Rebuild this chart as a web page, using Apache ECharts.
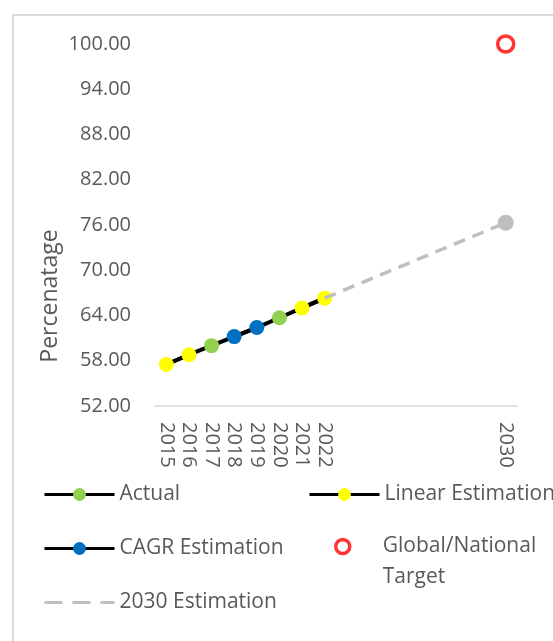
<!DOCTYPE html>
<html>
<head>
<meta charset="utf-8">
<script src="https://cdn.jsdelivr.net/npm/echarts@6/dist/echarts.min.js"></script>
<style>
  html, body { margin: 0; padding: 0; background: #fff; }
  #chart { width: 553px; height: 641px; }
</style>
</head>
<body>
<div id="chart"></div>
<script>
const years = [2015, 2016, 2017, 2018, 2019, 2020, 2021, 2022];
const actual = [null, null, 60.0, null, null, 63.7, null, null];
const linearEst = [57.5, 58.8, null, null, null, null, 65.0, 66.3];
const cagrEst = [null, null, null, 61.2, 62.4, null, null, null];
const estYears = [2022, 2030];
const estValues = [66.3, 76.3];
const targetYear = 2030;
const targetValue = 100;
const xLabelYears = [2015, 2016, 2017, 2018, 2019, 2020, 2021, 2022, 2030];

const FONT = "Open Sans";
const TEXT = "#595959";

const pairs = (vals) => years.map((y, i) => [y, vals[i] == null ? "-" : vals[i]]);
const trend = years.map((y, i) => [y, actual[i] ?? linearEst[i] ?? cagrEst[i]]);

const chart = echarts.init(document.getElementById("chart"));

const legendBase = {
  padding: 0,
  itemWidth: 70,
  itemHeight: 16,
  itemGap: 6,
  textStyle: { fontFamily: FONT, fontSize: 21, color: TEXT },
  selectedMode: false
};
const blackLine = { color: "#000", width: 3 };

chart.setOption({
  backgroundColor: "#fff",
  animation: false,
  grid: { left: 155, right: 36, top: 44, bottom: 235 },
  xAxis: {
    type: "value",
    min: 2014.5,
    max: 2030.5,
    splitLine: { show: false },
    axisTick: { show: false },
    axisLine: { show: true, lineStyle: { color: "#d9d9d9", width: 1.5 } },
    axisLabel: {
      customValues: xLabelYears,
      rotate: -90,
      margin: 16,
      fontFamily: FONT,
      fontSize: 20,
      color: TEXT,
      formatter: (v) => String(v)
    }
  },
  yAxis: {
    type: "value",
    min: 52,
    max: 100,
    interval: 6,
    splitLine: { show: false },
    axisTick: { show: false },
    axisLine: { show: false },
    axisLabel: {
      margin: 24,
      fontFamily: FONT,
      fontSize: 20,
      color: TEXT,
      formatter: (v) => v.toFixed(2)
    }
  },
  graphic: [
    {
      type: "rect",
      shape: { x: 13, y: 15, width: 700, height: 800 },
      style: { fill: "none", stroke: "#d9d9d9", lineWidth: 2 },
      silent: true
    },
    {
      type: "text",
      x: 50,
      y: 296,
      rotation: Math.PI / 2,
      style: {
        text: "Percenatage",
        fontFamily: FONT,
        fontSize: 23,
        fill: TEXT,
        align: "center",
        verticalAlign: "middle"
      }
    }
  ],
  legend: [
    { ...legendBase, left: 43, top: 484, data: [{ name: "Actual", lineStyle: blackLine }] },
    { ...legendBase, left: 308, top: 484, data: [{ name: "Linear Estimation", lineStyle: blackLine }] },
    { ...legendBase, left: 43, top: 538, data: [{ name: "CAGR Estimation", lineStyle: blackLine }] },
    {
      ...legendBase,
      left: 334,
      top: 500,
      itemHeight: 14,
      data: [{
        name: "Global/National Target",
        itemStyle: { color: "#fff", borderColor: "#ff0000", borderWidth: 3.5 }
      }],
      formatter: () => " \nGlobal/National\nTarget",
      textStyle: { ...legendBase.textStyle, lineHeight: 31 }
    },
    {
      ...legendBase,
      left: 43,
      top: 592,
      data: [{
        name: "2030 Estimation",
        lineStyle: { color: "#bfbfbf", width: 3, type: [18, 10] },
        itemStyle: { color: "rgba(0,0,0,0)", borderWidth: 0 }
      }]
    }
  ],
  series: [
    {
      name: "trend",
      type: "line",
      data: trend,
      symbol: "none",
      lineStyle: { color: "#000", width: 4 },
      z: 2
    },
    {
      name: "Actual",
      type: "line",
      data: pairs(actual),
      symbol: "circle",
      symbolSize: 15,
      itemStyle: { color: "#92d050" },
      lineStyle: { color: "#000", width: 4 },
      z: 3
    },
    {
      name: "Linear Estimation",
      type: "line",
      data: pairs(linearEst),
      symbol: "circle",
      symbolSize: 15,
      itemStyle: { color: "#ffff00" },
      lineStyle: { color: "#000", width: 4 },
      z: 3
    },
    {
      name: "CAGR Estimation",
      type: "line",
      data: pairs(cagrEst),
      symbol: "circle",
      symbolSize: 15,
      itemStyle: { color: "#0070c0" },
      lineStyle: { color: "#000", width: 4 },
      z: 3
    },
    {
      name: "2030 Estimation",
      type: "line",
      data: estYears.map((y, i) => ({
        value: [y, estValues[i]],
        symbol: i === estYears.length - 1 ? "circle" : "none",
        symbolSize: 16
      })),
      symbol: "none",
      showSymbol: true,
      itemStyle: { color: "#bfbfbf" },
      lineStyle: { color: "#bfbfbf", width: 3.5, type: [12, 8] },
      z: 4
    },
    {
      name: "Global/National Target",
      type: "scatter",
      data: [[targetYear, targetValue]],
      symbol: "circle",
      symbolSize: 16,
      itemStyle: { color: "#fff", borderColor: "#ff0000", borderWidth: 3.5 },
      z: 5
    }
  ]
});
</script>
</body>
</html>
